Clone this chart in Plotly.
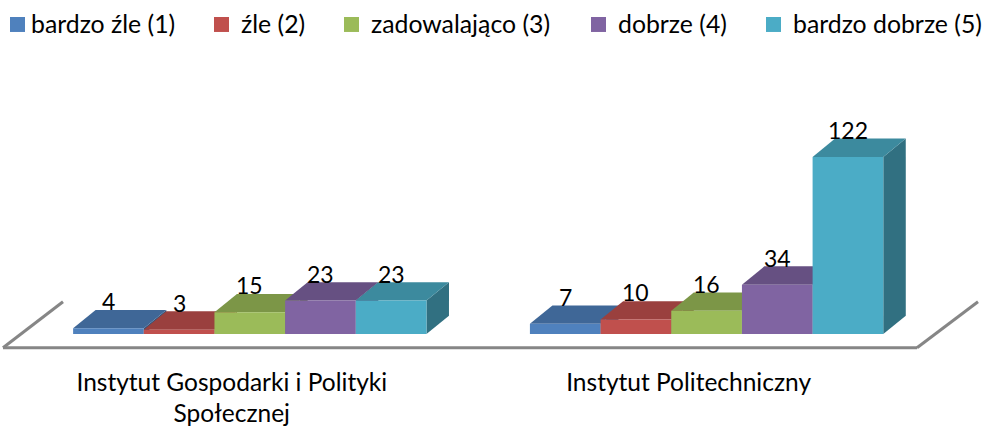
import plotly.graph_objects as go

W, H = 986, 426
categories = ["Instytut Gospodarki i Polityki<br>Społecznej", "Instytut Politechniczny"]
series_names = ["bardzo źle (1)", "źle (2)", "zadowalająco (3)", "dobrze (4)", "bardzo dobrze (5)"]
bardzo_zle = [4, 7]
zle = [3, 10]
zadowalajaco = [15, 16]
dobrze = [23, 34]
bardzo_dobrze = [23, 122]
series_values = [bardzo_zle, zle, zadowalajaco, dobrze, bardzo_dobrze]
colors = ["#4F81BD", "#C0504D", "#9BBB59", "#8064A2", "#4BACC6"]
legend_swatch_px = [10, 214, 344, 591, 766]
legend_text_px = [31, 241, 371, 618, 793]

FONT = "Lato"
FS = 24.5
FS_LEGEND = 24.8
FS_LABEL = 23
BASE_PX = 334.3
PX_PER_UNIT = 1.453
GROUP_PX = [249.8, 706.6]
BAR_PX = 70.67
DX_PX, DY_PX = 22.5, 18.3

unit_x = GROUP_PX[1] - GROUP_PX[0]
x_range = [(0 - GROUP_PX[0]) / unit_x, (W - GROUP_PX[0]) / unit_x]
y_range = [0, BASE_PX / PX_PER_UNIT]
bar_w = BAR_PX / unit_x
dx, dy = DX_PX / unit_x, DY_PX / PX_PER_UNIT


def shade(hex_color, f):
    r, g, b = (int(hex_color[i:i + 2], 16) for i in (1, 3, 5))
    return f"rgb({round(r * f)},{round(g * f)},{round(b * f)})"


fig = go.Figure()
annotations = []
for i, (name, vals, col) in enumerate(zip(series_names, series_values, colors)):
    off = (i - 2.5) * bar_w
    for c, v in enumerate(vals):
        l, r = c + off, c + off + bar_w
        fig.add_trace(go.Scatter(x=[r, r + dx, r + dx, r, r], y=[0, dy, v + dy, v, 0], mode="lines",
                                 fill="toself", fillcolor=shade(col, 0.65), line=dict(width=0),
                                 hoverinfo="skip", showlegend=False))
        fig.add_trace(go.Scatter(x=[l, r, r + dx, l + dx, l], y=[v, v, v + dy, v + dy, v], mode="lines",
                                 fill="toself", fillcolor=shade(col, 0.8), line=dict(width=0),
                                 hoverinfo="skip", showlegend=False))
        annotations.append(dict(x=c + off + bar_w / 2, y=v, xref="x", yref="y", text=str(v), showarrow=False,
                                yshift=27, yanchor="middle", xanchor="center",
                                font=dict(family=FONT, size=FS_LABEL, color="#000000")))
for i, (name, vals, col) in enumerate(zip(series_names, series_values, colors)):
    fig.add_trace(go.Bar(x=[0, 1], y=vals, name=name, width=bar_w, offset=(i - 2.5) * bar_w,
                         marker=dict(color=col, line=dict(width=0)), xaxis="x2", yaxis="y2", showlegend=False))

shapes = []
for i, col in enumerate(colors):
    shapes.append(dict(type="rect", xref="paper", yref="paper", layer="above", line=dict(width=0), fillcolor=col,
                       x0=legend_swatch_px[i] / W, x1=(legend_swatch_px[i] + 15) / W,
                       y0=(BASE_PX - 32) / BASE_PX, y1=(BASE_PX - 17) / BASE_PX))
    annotations.append(dict(x=legend_text_px[i] / W, y=(BASE_PX - 24) / BASE_PX, xref="paper", yref="paper",
                            text=series_names[i], showarrow=False, xanchor="left", yanchor="middle", xshift=-2,
                            font=dict(family=FONT, size=FS_LEGEND, color="#000000")))
# floor of the 3-D plot
for (x0, y0, x1, y1) in [(3, 348, 917, 348), (3, 348, 63, 302), (917, 348, 978, 302)]:
    shapes.append(dict(type="line", xref="paper", yref="paper", layer="below", line=dict(color="#868686", width=3),
                       x0=x0 / W, x1=x1 / W, y0=(BASE_PX - y0) / BASE_PX, y1=(BASE_PX - y1) / BASE_PX))

fig.update_layout(
    width=W, height=H, margin=dict(l=0, r=0, t=0, b=H - BASE_PX, pad=0), paper_bgcolor="white", plot_bgcolor="white",
    barmode="overlay", showlegend=False, annotations=annotations, shapes=shapes,
    xaxis=dict(range=x_range, tickvals=[0, 1], ticktext=categories, showgrid=False, zeroline=False, showline=False,
               ticks="", ticklabelstandoff=31, ticklabelshift=-18, tickangle=0, automargin=False,
               tickfont=dict(family=FONT, size=FS, color="#000000")),
    yaxis=dict(range=y_range, visible=False),
    xaxis2=dict(range=x_range, overlaying="x", visible=False),
    yaxis2=dict(range=y_range, overlaying="y", visible=False),
)
fig.write_html("out.html", config=dict(displayModeBar=False),
               post_script="document.body.style.margin='0';document.body.style.overflow='hidden';")
